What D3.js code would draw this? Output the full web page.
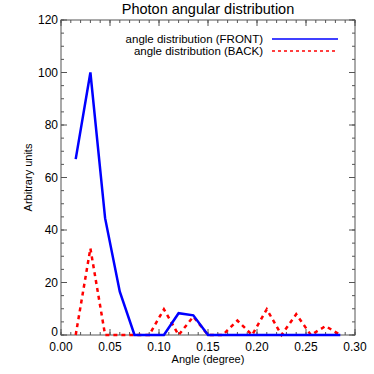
<!DOCTYPE html>
<html><head><meta charset="UTF-8">
<title>Photon angular distribution</title>
<script src="https://d3js.org/d3.v7.min.js"></script>
<style>
  body { margin: 0; background: #fff; }
  text { font-family: "Liberation Sans", Arial, sans-serif; fill: #000; }
</style>
</head>
<body>
<svg width="374" height="374"></svg>
<script>
  // data
  const angles = [0.015, 0.03, 0.045, 0.06, 0.075, 0.09, 0.105, 0.12, 0.135, 0.15,
                  0.165, 0.18, 0.195, 0.21, 0.225, 0.24, 0.255, 0.27, 0.285];
  const front = [67, 100, 44.5, 16.5, 0, 0, 0, 8.3, 7.5, 0,
                 0, 0, 0, 0, 0, 0, 0, 0, 0];
  const back  = [0, 33, 0, 0, 0, 0, 9.8, 0, 7, 0,
                 0, 5.5, 0, 9.8, 0, 7.9, 0, 3.4, 0];
  const xTicks = [0, 0.05, 0.10, 0.15, 0.20, 0.25, 0.30];
  const yTicks = [0, 20, 40, 60, 80, 100, 120];

  const margin = {top: 20, right: 19, bottom: 39, left: 61},
        width = 374 - margin.left - margin.right,
        height = 374 - margin.top - margin.bottom;

  const svg = d3.select("svg");
  const g = svg.append("g")
      .attr("transform", "translate(" + margin.left + "," + margin.top + ")");

  const x = d3.scaleLinear().domain([0, 0.3]).range([0, width]);
  const y = d3.scaleLinear().domain([0, 120]).range([height, 0]);

  // frame
  g.append("rect")
    .attr("width", width).attr("height", height)
    .attr("fill", "none").attr("stroke", "#555").attr("stroke-width", 1);

  const tickColor = "#555";
  const minorX = d3.range(0, 0.3001, 0.01);
  const minorY = d3.range(0, 120.1, 5);

  // minor + major ticks, all four sides, pointing inward
  g.selectAll(".mxb").data(minorX).join("line")
    .attr("x1", d => x(d)).attr("x2", d => x(d))
    .attr("y1", height).attr("y2", height - 3).attr("stroke", tickColor);
  g.selectAll(".mxt").data(minorX).join("line")
    .attr("x1", d => x(d)).attr("x2", d => x(d))
    .attr("y1", 0).attr("y2", 3).attr("stroke", tickColor);
  g.selectAll(".Mxb").data(xTicks).join("line")
    .attr("x1", d => x(d)).attr("x2", d => x(d))
    .attr("y1", height).attr("y2", height - 6).attr("stroke", tickColor);
  g.selectAll(".Mxt").data(xTicks).join("line")
    .attr("x1", d => x(d)).attr("x2", d => x(d))
    .attr("y1", 0).attr("y2", 6).attr("stroke", tickColor);
  g.selectAll(".myl").data(minorY).join("line")
    .attr("y1", d => y(d)).attr("y2", d => y(d))
    .attr("x1", 0).attr("x2", 3).attr("stroke", tickColor);
  g.selectAll(".myr").data(minorY).join("line")
    .attr("y1", d => y(d)).attr("y2", d => y(d))
    .attr("x1", width).attr("x2", width - 3).attr("stroke", tickColor);
  g.selectAll(".Myl").data(yTicks).join("line")
    .attr("y1", d => y(d)).attr("y2", d => y(d))
    .attr("x1", 0).attr("x2", 6).attr("stroke", tickColor);
  g.selectAll(".Myr").data(yTicks).join("line")
    .attr("y1", d => y(d)).attr("y2", d => y(d))
    .attr("x1", width).attr("x2", width - 6).attr("stroke", tickColor);

  // tick labels (the "0" sits a little higher, clear of the x labels)
  g.selectAll(".xl").data(xTicks).join("text")
    .attr("x", d => x(d)).attr("y", height + 16)
    .attr("text-anchor", "middle").style("font-size", "12px")
    .text(d => d.toFixed(2));
  g.selectAll(".yl").data(yTicks).join("text")
    .attr("x", -3).attr("y", d => y(d) + (d === 0 ? 0.5 : 4))
    .attr("text-anchor", "end").style("font-size", "12px")
    .text(d => d);

  // titles
  svg.append("text")
    .attr("x", margin.left + width / 2).attr("y", 14)
    .attr("text-anchor", "middle").style("font-size", "14.5px")
    .text("Photon angular distribution");
  svg.append("text")
    .attr("x", margin.left + width / 2).attr("y", 363)
    .attr("text-anchor", "middle").style("font-size", "11px")
    .text("Angle (degree)");
  svg.append("text")
    .attr("transform", "translate(32," + (margin.top + height / 2) + ") rotate(-90)")
    .attr("text-anchor", "middle").style("font-size", "11px")
    .text("Arbitrary units");

  const line = d3.line().x(d => x(d[0])).y(d => y(d[1]));

  g.append("path")
    .datum(angles.map((a, i) => [a, back[i]]))
    .attr("d", line).attr("fill", "none")
    .attr("stroke", "#ff0000").attr("stroke-width", 2.5)
    .attr("stroke-dasharray", "4,4");

  g.append("path")
    .datum(angles.map((a, i) => [a, front[i]]))
    .attr("d", line).attr("fill", "none")
    .attr("stroke", "#0000ff").attr("stroke-width", 2.5);

  // legend
  const legend = [
    {name: "angle distribution (FRONT)", color: "#0000ff", dash: null},
    {name: "angle distribution (BACK)", color: "#ff0000", dash: "3,3"}
  ];
  const lg = svg.selectAll(".legend").data(legend).join("g")
    .attr("transform", (d, i) => "translate(0," + (39 + i * 12) + ")");
  lg.append("text")
    .attr("x", 263).attr("y", 4)
    .attr("text-anchor", "end").style("font-size", "11.5px")
    .text(d => d.name);
  lg.append("line")
    .attr("x1", 272).attr("x2", 338).attr("y1", 0).attr("y2", 0)
    .attr("stroke", d => d.color).attr("stroke-width", 1.5)
    .attr("stroke-dasharray", d => d.dash);
</script>
</body></html>
